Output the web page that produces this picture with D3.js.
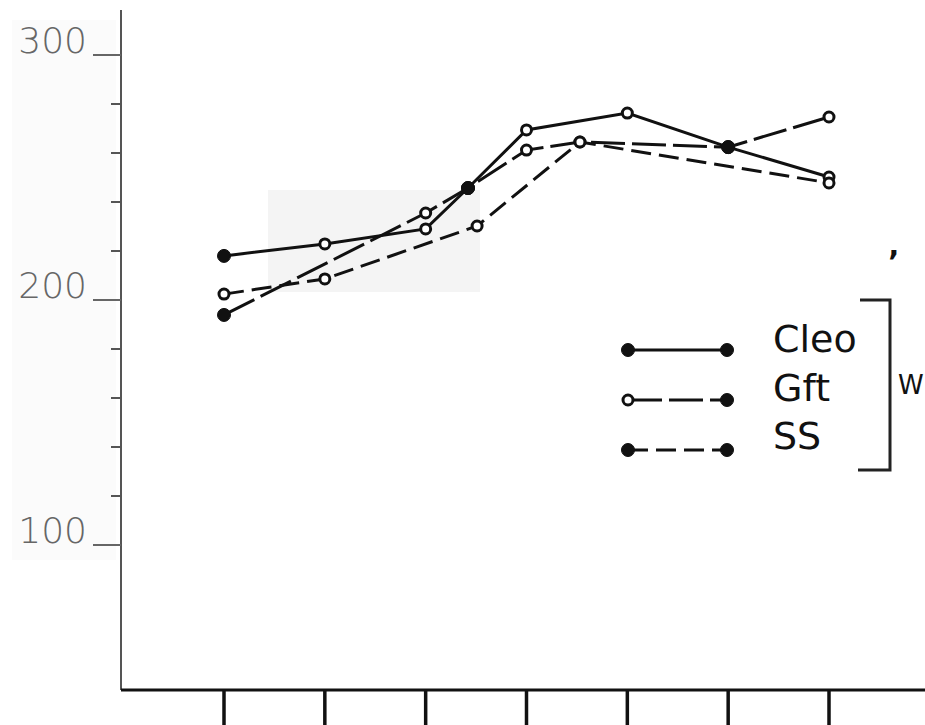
<!DOCTYPE html>
<html>
<head>
<meta charset="utf-8">
<script src="https://cdn.jsdelivr.net/npm/d3@7"></script>
<style>
  body { margin: 0; background: #fff; }
  svg { display: block; }
</style>
</head>
<body>
<svg id="chart" width="925" height="725"></svg>
<script>
    // values
    const xTicks = [1, 2, 3, 4, 5, 6, 7];
    const yMajor = [100, 200, 300];
    const yMinor = [120, 140, 160, 180, 220, 240, 260, 280];

    const seriesNames = ["Cleo", "Gft", "SS"];

    const cleoX = [1, 2, 3, 3.42, 4, 5, 6, 7];
    const cleoY = [218, 222.9, 229, 245.7, 269.4, 276.3, 262.4, 250.2];
    const cleoFilled = [1, 0, 0, 1, 0, 0, 1, 0];

    const gftX = [1, 3, 3.42, 4, 4.53, 6, 7];
    const gftY = [193.9, 235.5, 245.7, 261.2, 264.5, 262.4, 274.7];
    const gftFilled = [1, 0, 1, 0, 0, 1, 0];

    const ssX = [1, 2, 3.51, 4.53, 7];
    const ssY = [202.4, 208.6, 230.2, 264.5, 247.8];
    const ssFilled = [0, 0, 0, 0, 0];

    const dashes = ["none", "34,7", "20,8"];
    const legendLeftFilled = [1, 0, 1];
    const legendRightFilled = [1, 1, 1];

    const svg = d3.select("#chart");
    const width = +svg.attr("width");
    const height = +svg.attr("height");

    const x = d3.scaleLinear().domain([1, 7]).range([224, 829]);
    const y = d3.scaleLinear().domain([100, 300]).range([545, 55]);

    const axisX = 121;   // left axis position
    const baseY = 690;   // bottom axis position

    // faint scan shading
    svg.append("rect")
        .attr("x", 12).attr("y", 20).attr("width", 104).attr("height", 540)
        .attr("fill", "#fbfbfb");
    svg.append("rect")
        .attr("x", 268).attr("y", 190).attr("width", 212).attr("height", 102)
        .attr("fill", "#ececec").attr("opacity", 0.6);

    // left axis
    svg.append("line")
        .attr("x1", axisX).attr("x2", axisX)
        .attr("y1", 10).attr("y2", baseY)
        .attr("stroke", "#555").attr("stroke-width", 2);

    svg.selectAll(".minor").data(yMinor).enter().append("line")
        .attr("class", "minor")
        .attr("x1", axisX - 10).attr("x2", axisX)
        .attr("y1", d => y(d)).attr("y2", d => y(d))
        .attr("stroke", "#555").attr("stroke-width", 2);

    svg.selectAll(".major").data(yMajor).enter().append("line")
        .attr("class", "major")
        .attr("x1", axisX - 28).attr("x2", axisX)
        .attr("y1", d => y(d)).attr("y2", d => y(d))
        .attr("stroke", "#666").attr("stroke-width", 2);

    svg.selectAll(".ylabel").data(yMajor).enter().append("text")
        .attr("class", "ylabel")
        .attr("x", 87).attr("y", d => y(d) - 2)
        .attr("text-anchor", "end")
        .attr("font-family", "DejaVu Sans")
        .attr("font-weight", 200)
        .attr("font-size", 36)
        .attr("fill", "#666")
        .text(d => d);

    // bottom axis
    svg.append("line")
        .attr("x1", axisX).attr("x2", width)
        .attr("y1", baseY).attr("y2", baseY)
        .attr("stroke", "#111").attr("stroke-width", 3);

    svg.selectAll(".xtick").data(xTicks).enter().append("line")
        .attr("class", "xtick")
        .attr("x1", d => x(d)).attr("x2", d => x(d))
        .attr("y1", baseY).attr("y2", height)
        .attr("stroke", "#111").attr("stroke-width", 3.5);

    // series
    const series = [
        { xs: cleoX, ys: cleoY, filled: cleoFilled },
        { xs: gftX, ys: gftY, filled: gftFilled },
        { xs: ssX, ys: ssY, filled: ssFilled }
    ];

    const line = d3.line().x(d => x(d[0])).y(d => y(d[1]));

    series.forEach(function(s, i) {
        const pts = s.xs.map((v, j) => [v, s.ys[j], s.filled[j]]);
        svg.append("path")
            .attr("d", line(pts))
            .attr("fill", "none")
            .attr("stroke", "#111")
            .attr("stroke-width", 3)
            .attr("stroke-dasharray", dashes[i]);
        svg.selectAll(".pt" + i).data(pts).enter().append("circle")
            .attr("class", "pt" + i)
            .attr("cx", d => x(d[0]))
            .attr("cy", d => y(d[1]))
            .attr("r", d => d[2] ? 6.5 : 5)
            .attr("fill", d => d[2] ? "#111" : "#fff")
            .attr("stroke", "#111")
            .attr("stroke-width", d => d[2] ? 1 : 3);
    });

    // legend
    const legend = svg.append("g");
    const rowY = [350, 400, 450];
    seriesNames.forEach(function(name, i) {
        legend.append("line")
            .attr("x1", 628).attr("x2", 727)
            .attr("y1", rowY[i]).attr("y2", rowY[i])
            .attr("stroke", "#111").attr("stroke-width", 3)
            .attr("stroke-dasharray", dashes[i]);
        [[628, legendLeftFilled[i]], [727, legendRightFilled[i]]].forEach(function(m) {
            legend.append("circle")
                .attr("cx", m[0]).attr("cy", rowY[i])
                .attr("r", m[1] ? 6.5 : 5)
                .attr("fill", m[1] ? "#111" : "#fff")
                .attr("stroke", "#111")
                .attr("stroke-width", m[1] ? 1 : 3);
        });
        legend.append("text")
            .attr("x", 773).attr("y", rowY[i] + 2 - i * 1.5)
            .attr("font-family", "DejaVu Sans")
            .attr("font-size", 38)
            .attr("fill", "#111")
            .text(name);
    });

    // bracket and the label beside it
    legend.append("path")
        .attr("d", "M860,300 H890 V470 H858")
        .attr("fill", "none")
        .attr("stroke", "#222")
        .attr("stroke-width", 3);
    legend.append("text")
        .attr("x", 898).attr("y", 394)
        .attr("font-family", "DejaVu Sans")
        .attr("font-size", 26)
        .attr("fill", "#111")
        .text("W");
    legend.append("text")
        .attr("x", 888).attr("y", 272)
        .attr("font-family", "DejaVu Sans")
        .attr("font-size", 30)
        .attr("font-weight", "bold")
        .attr("fill", "#111")
        .text("’");
</script>
</body>
</html>
